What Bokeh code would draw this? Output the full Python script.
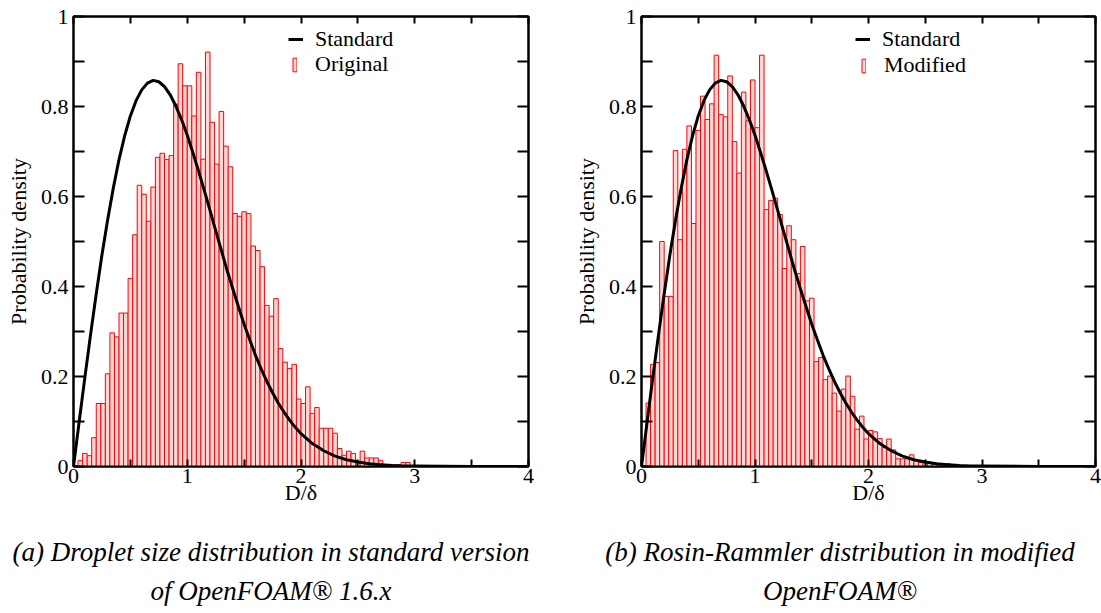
from bokeh.plotting import figure
from bokeh.layouts import row, column
from bokeh.models import (LinearAxis, FixedTicker, Legend, LegendItem, Range1d)
from bokeh.core.properties import value
from bokeh.embed import file_html
from bokeh.resources import INLINE

# ---------------- data ----------------
bin_width = 0.04
# histogram heights, bins of width 0.04 starting at D/delta = 0.04
original_heights = [
    0.013, 0.029, 0.024, 0.064, 0.140, 0.140, 0.206, 0.297, 0.288, 0.341,
    0.341, 0.418, 0.515, 0.625, 0.605, 0.545, 0.621, 0.687, 0.696, 0.682,
    0.691, 0.805, 0.895, 0.846, 0.846, 0.779, 0.876, 0.683, 0.921, 0.765,
    0.672, 0.789, 0.712, 0.666, 0.562, 0.556, 0.566, 0.562, 0.490, 0.480,
    0.444, 0.358, 0.334, 0.373, 0.262, 0.232, 0.218, 0.227, 0.150, 0.140,
    0.177, 0.118, 0.131, 0.085, 0.085, 0.085, 0.074, 0.040, 0.025, 0.034,
    0.029, 0.010, 0.034, 0.019, 0.019, 0.019, 0.013, 0.004, 0.004, 0.004,
    0.004, 0.009, 0.009,
]
modified_heights = [
    0.141, 0.227, 0.231, 0.500, 0.378, 0.378, 0.702, 0.504, 0.705, 0.757,
    0.540, 0.747, 0.823, 0.771, 0.806, 0.914, 0.782, 0.777, 0.868, 0.722,
    0.652, 0.832, 0.768, 0.859, 0.753, 0.914, 0.571, 0.591, 0.596, 0.560,
    0.440, 0.535, 0.504, 0.429, 0.489, 0.368, 0.374, 0.233, 0.242, 0.193,
    0.201, 0.163, 0.123, 0.172, 0.201, 0.156, 0.083, 0.112, 0.061, 0.080,
    0.077, 0.062, 0.042, 0.061, 0.037, 0.017, 0.017, 0.017, 0.026, 0.013,
    0.009, 0.009, 0.009, 0.006, 0.004, 0.006, 0.006, 0.004, 0.003,
]
# "Standard" curve
standard_x = [0.00, 0.05, 0.10, 0.15, 0.20, 0.25, 0.30, 0.35, 0.40, 0.45,
              0.50, 0.55, 0.60, 0.65, 0.70, 0.75, 0.80, 0.85, 0.90, 0.95,
              1.00, 1.05, 1.10, 1.15, 1.20, 1.25, 1.30, 1.35, 1.40, 1.45,
              1.50, 1.55, 1.60, 1.65, 1.70, 1.75, 1.80, 1.85, 1.90, 1.95,
              2.00, 2.10, 2.20, 2.30, 2.40, 2.50, 2.60, 2.70, 2.80, 2.90,
              3.00, 3.50, 4.00]
standard_y = [0.000, 0.100, 0.198, 0.293, 0.384, 0.470, 0.548, 0.619, 0.682, 0.735,
              0.779, 0.813, 0.837, 0.852, 0.858, 0.855, 0.844, 0.826, 0.801, 0.771,
              0.736, 0.697, 0.656, 0.613, 0.569, 0.524, 0.480, 0.436, 0.395, 0.355,
              0.316, 0.281, 0.247, 0.217, 0.189, 0.164, 0.141, 0.121, 0.103, 0.087,
              0.073, 0.051, 0.035, 0.023, 0.015, 0.010, 0.006, 0.004, 0.002, 0.001,
              0.001, 0.000, 0.000]

x_ticks = [0, 1, 2, 3, 4]
x_tick_labels = ["0", "1", "2", "3", "4"]
x_minor = [0.5, 1.5, 2.5, 3.5]
y_ticks = [0, 0.2, 0.4, 0.6, 0.8, 1]
y_tick_labels = ["0", "0.2", "0.4", "0.6", "0.8", "1"]
y_minor = [0.1, 0.3, 0.5, 0.7, 0.9]

x_label = "D/\u03b4"
y_label = "Probability density"
caption_lines = ["(a) Droplet size distribution in standard version",
                 "of OpenFOAM\u00ae 1.6.x",
                 "(b) Rosin-Rammler distribution in modified",
                 "OpenFOAM\u00ae"]

FONT = "Liberation Serif"
TOTAL_W = 1101
MAIN_H = 520
CAP_H = 92


def style_axis(ax, ticker, labels, tick_len, show_labels):
    ax.ticker = ticker
    ax.axis_line_color = "black"
    ax.axis_line_width = 2
    ax.major_tick_line_color = "black"
    ax.minor_tick_line_color = "black"
    ax.major_tick_line_width = 2
    ax.minor_tick_line_width = 2
    ax.major_tick_in = tick_len
    ax.major_tick_out = 0
    ax.minor_tick_in = tick_len
    ax.minor_tick_out = 0
    if show_labels:
        ax.major_label_overrides = labels
        ax.major_label_text_font = FONT
        ax.major_label_text_font_size = "22px"
        ax.major_label_text_color = "black"
    else:
        ax.major_label_text_font_size = "1px"
        ax.major_label_text_color = None
        ax.major_label_text_alpha = 0
        ax.major_label_standoff = 0


def make_panel(heights, series_name, width, frame_h, b_left, b_top, b_right,
               leg_line_pos, leg_bar_pos):
    p = figure(width=width, height=MAIN_H,
               x_range=Range1d(0, 4), y_range=Range1d(0, 1),
               output_backend="svg", toolbar_location=None,
               min_border_left=b_left, min_border_top=b_top,
               min_border_right=b_right, min_border_bottom=MAIN_H - b_top - frame_h,
               title=None)
    p.grid.visible = False
    p.outline_line_color = "black"
    p.outline_line_width = 2
    p.background_fill_color = "white"
    p.border_fill_color = "white"

    xt = FixedTicker(ticks=x_ticks, minor_ticks=x_minor)
    yt = FixedTicker(ticks=y_ticks, minor_ticks=y_minor)
    xlabels = dict(zip(x_ticks, x_tick_labels))
    ylabels = dict(zip(y_ticks, y_tick_labels))

    style_axis(p.xaxis[0], xt, xlabels, 7, True)
    style_axis(p.yaxis[0], yt, ylabels, 11, True)
    p.xaxis[0].major_label_standoff = 2
    p.yaxis[0].major_label_standoff = 5
    p.xaxis[0].axis_label = x_label
    p.yaxis[0].axis_label = y_label
    for ax in (p.xaxis[0], p.yaxis[0]):
        ax.axis_label_text_font = FONT
        ax.axis_label_text_font_size = "22px"
        ax.axis_label_text_font_style = "normal"
        ax.axis_label_text_color = "black"
    p.xaxis[0].axis_label_standoff = -6
    p.yaxis[0].axis_label_standoff = 7

    top_ax = LinearAxis()
    style_axis(top_ax, xt, xlabels, 7, False)
    p.add_layout(top_ax, "above")
    right_ax = LinearAxis()
    style_axis(right_ax, yt, ylabels, 11, False)
    p.add_layout(right_ax, "right")

    centers = [bin_width * (i + 1) + bin_width / 2 for i in range(len(heights))]
    bars = p.vbar(x=centers, width=bin_width, top=heights, bottom=0,
                  fill_color="#ffd6d6", line_color="#ff0000", line_width=1)
    curve = p.line(standard_x, standard_y, line_color="black", line_width=3)

    common = dict(padding=0, margin=0, spacing=0, border_line_color=None,
                  background_fill_alpha=0, label_text_font=FONT,
                  label_text_font_size="22px", label_text_color="black")
    leg1 = Legend(items=[LegendItem(label="Standard", renderers=[curve])],
                  location=leg_line_pos, glyph_width=15, glyph_height=22,
                  label_standoff=12, label_height=22, **common)
    leg2 = Legend(items=[LegendItem(label=series_name, renderers=[bars])],
                  location=leg_bar_pos, glyph_width=5, glyph_height=17,
                  label_standoff=18, label_height=17, **common)
    p.add_layout(leg1)
    p.add_layout(leg2)
    return p


# left panel: frame 455 x 453, 73px from the left edge, 13px from the top
p1 = make_panel(original_heights, "Original", 560, 453, 73, 13, 32,
                (215, 414), (219, 389))
# right panel: frame 454 x 455, 81px from its figure's left edge, 16px from the top
p2 = make_panel(modified_heights, "Modified", 541, 455, 81, 16, 6,
                (214, 414), (220, 388))

# caption strip below both panels (pixel-like coordinates)
pc = figure(width=TOTAL_W, height=CAP_H, x_range=Range1d(0, TOTAL_W),
            y_range=Range1d(0, CAP_H), output_backend="svg", toolbar_location=None,
            x_axis_location=None, y_axis_location=None, min_border=0, title=None)
pc.grid.visible = False
pc.outline_line_color = None
pc.background_fill_color = "white"
pc.border_fill_color = "white"
cap_x = [270.5, 270.5, 839.5, 839.5]
cap_y = [61, 22, 61, 22]
pc.text(x=cap_x, y=cap_y, text=caption_lines, text_align="center",
        text_baseline="middle", text_font=value(FONT), text_font_style="italic",
        text_font_size="27px", text_color="black")

layout = column(row(p1, p2), pc)
open("out.html", "w").write(file_html(layout, INLINE))
